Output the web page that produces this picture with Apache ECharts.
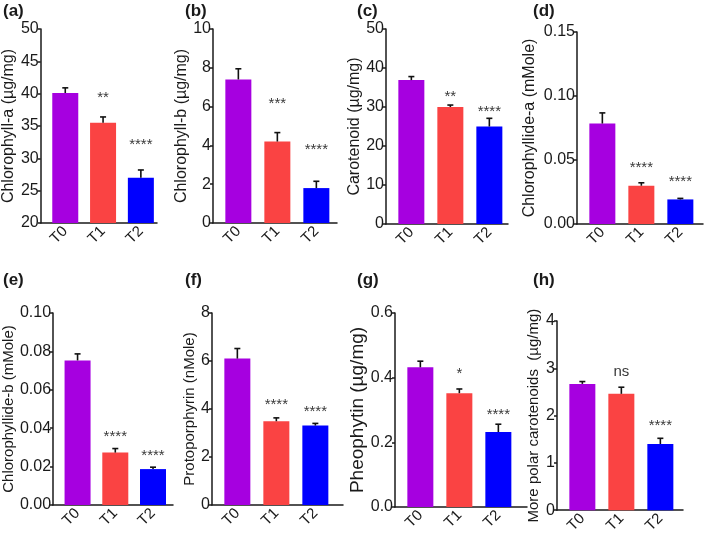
<!DOCTYPE html>
<html>
<head>
<meta charset="utf-8">
<script src="https://cdn.jsdelivr.net/npm/echarts@6/dist/echarts.min.js"></script>
<style>
html,body{margin:0;padding:0;background:#fff;}
#main{width:705px;height:536px;}
</style>
</head>
<body>
<div id="main"></div>
<script>
// groups and colours
var categories = ['T0', 'T1', 'T2'];
var barColors = ['#A600E0', '#FA4343', '#0000FF'];
var panelTags = ['(a)', '(b)', '(c)', '(d)', '(e)', '(f)', '(g)', '(h)'];
var yTitles = ['Chlorophyll-a (µg/mg)', 'Chlorophyll-b (µg/mg)', 'Carotenoid (µg/mg)', 'Chlorophyllide-a (mMole)',
               'Chlorophyllide-b (mMole)', 'Protoporphyrin (nMole)', 'Pheophytin (µg/mg)', 'More polar carotenoids  (µg/mg)'];

// means and error bars
var chlaMean = [40.1, 35.5, 27.0],       chlaErr = [0.8, 0.9, 1.2];
var chlbMean = [7.4, 4.2, 1.8],          chlbErr = [0.55, 0.46, 0.35];
var carMean = [36.9, 30.0, 25.0],        carErr = [0.9, 0.5, 2.1];
var chlidaMean = [0.0785, 0.0299, 0.0192], chlidaErr = [0.0083, 0.0023, 0.0008];
var chlidbMean = [0.0753, 0.0273, 0.0187], chlidbErr = [0.0034, 0.0021, 0.001];
var protoMean = [6.1, 3.49, 3.31],       protoErr = [0.42, 0.14, 0.09];
var pheoMean = [0.432, 0.352, 0.232],    pheoErr = [0.019, 0.013, 0.024];
var mpcMean = [2.67, 2.46, 1.40],        mpcErr = [0.05, 0.14, 0.12];

// significance marks (text, height where they sit)
var chlaSig = ['', '**', '****'],    chlaSigY = [0, 39.9, 32.7];
var chlbSig = ['', '***', '****'],   chlbSigY = [0, 6.36, 4.0];
var carSig = ['', '**', '****'],     carSigY = [0, 33.7, 29.8];
var chlidaSig = ['', '****', '****'], chlidaSigY = [0, 0.0468, 0.0364];
var chlidbSig = ['', '****', '****'], chlidbSigY = [0, 0.0377, 0.0277];
var protoSig = ['', '****', '****'], protoSigY = [0, 4.33, 4.03];
var pheoSig = ['', '*', '****'],     pheoSigY = [0, 0.425, 0.298];
var mpcSig = ['', 'ns', '****'],     mpcSigY = [0, 2.93, 1.86];

// y axis ticks
var yMin = [20, 0, 0, 0, 0, 0, 0, 0];
var yMax = [50, 10, 50, 0.15, 0.10, 8, 0.6, 4];
var yStep = [5, 2, 10, 0.05, 0.02, 2, 0.2, 1];
var yDecimals = [0, 0, 0, 2, 2, 0, 1, 0];

var means = [chlaMean, chlbMean, carMean, chlidaMean, chlidbMean, protoMean, pheoMean, mpcMean];
var errs = [chlaErr, chlbErr, carErr, chlidaErr, chlidbErr, protoErr, pheoErr, mpcErr];
var sigs = [chlaSig, chlbSig, carSig, chlidaSig, chlidbSig, protoSig, pheoSig, mpcSig];
var sigYs = [chlaSigY, chlbSigY, carSigY, chlidaSigY, chlidbSigY, protoSigY, pheoSigY, mpcSigY];

// layout of the 8 panels
var grids = [
	{left: 37, top: 29, width: 120, height: 194},
	{left: 213, top: 29, width: 124, height: 194},
	{left: 386, top: 29, width: 122, height: 195},
	{left: 577, top: 32, width: 126, height: 192},
	{left: 49, top: 313, width: 124, height: 192},
	{left: 212, top: 313, width: 131, height: 192},
	{left: 395, top: 313, width: 132, height: 194},
	{left: 557, top: 321, width: 126, height: 190}
];
var nameGaps = [21, 20, 20, 39, 34, 12, 27, 16];
var nameSizes = [16, 16, 16, 16, 15, 15, 19, 15];
var tagPos = [[3, 3], [185, 3], [357, 3], [533, 3], [3, 272], [185, 272], [357, 272], [533, 272]];

var FONT = 'Liberation Sans, Arial, sans-serif';
var INK = '#1a1a1a';

var option = {
	animation: false,
	backgroundColor: '#fff',
	title: [], grid: [], xAxis: [], yAxis: [], series: []
};

for (var i = 0; i < 8; i++) {
	option.title.push({
		text: panelTags[i], left: tagPos[i][0], top: tagPos[i][1], padding: 0,
		textStyle: {fontFamily: FONT, fontSize: 17, fontWeight: 'bold', color: INK}
	});
	option.grid.push(grids[i]);
	option.xAxis.push({
		type: 'value', gridIndex: i,
		min: -0.65, max: grids[i].width / 39 - 0.65,
		splitLine: {show: false},
		axisTick: {show: false},
		axisLine: {show: true, onZero: false, lineStyle: {color: INK, width: 1.5}},
		axisLabel: {
			customValues: [0, 1, 2], rotate: 45, margin: 6,
			fontFamily: FONT, fontSize: 15, color: INK,
			formatter: function (v) { return categories[Math.round(v)]; }
		}
	});
	option.yAxis.push({
		type: 'value', gridIndex: i,
		min: yMin[i], max: yMax[i], interval: yStep[i],
		name: yTitles[i], nameLocation: 'middle', nameGap: nameGaps[i],
		nameTextStyle: {fontFamily: FONT, fontSize: nameSizes[i], color: INK},
		splitLine: {show: false},
		axisLine: {show: true, onZero: false, lineStyle: {color: INK, width: 1.5}},
		axisTick: {show: true, length: 3, lineStyle: {color: INK, width: 1.5}},
		axisLabel: {
			margin: 2, fontFamily: FONT, fontSize: 16, color: INK,
			formatter: (function (d) { return function (v) { return v.toFixed(d); }; })(yDecimals[i])
		}
	});

	var barData = [], errData = [], sigData = [];
	for (var j = 0; j < 3; j++) {
		barData.push({value: [j, means[i][j]], itemStyle: {color: barColors[j]}});
		errData.push([j, means[i][j], errs[i][j]]);
		if (sigs[i][j]) {
			sigData.push({
				name: sigs[i][j], value: [j, sigYs[i][j]],
				label: {offset: [0, sigs[i][j].charAt(0) === '*' ? 4 : 0]}
			});
		}
	}
	option.series.push({
		type: 'bar', xAxisIndex: i, yAxisIndex: i, barWidth: 26,
		data: barData
	});
	option.series.push({
		type: 'custom', xAxisIndex: i, yAxisIndex: i, z: 3,
		data: errData,
		renderItem: function (params, api) {
			var x = api.value(0), y = api.value(1), e = api.value(2);
			var p0 = api.coord([x, y]);
			var p1 = api.coord([x, y + e]);
			var st = {stroke: '#111', lineWidth: 1.6};
			return {type: 'group', children: [
				{type: 'line', shape: {x1: p0[0], y1: p0[1], x2: p1[0], y2: p1[1]}, style: st},
				{type: 'line', shape: {x1: p1[0] - 3, y1: p1[1], x2: p1[0] + 3, y2: p1[1]}, style: st}
			]};
		}
	});
	option.series.push({
		type: 'scatter', xAxisIndex: i, yAxisIndex: i, symbolSize: 0, z: 4,
		data: sigData,
		label: {show: true, position: 'inside', formatter: '{b}', fontFamily: FONT, fontSize: 15, color: '#000'}
	});
}

var chart = echarts.init(document.getElementById('main'));
chart.setOption(option);
</script>
</body>
</html>
